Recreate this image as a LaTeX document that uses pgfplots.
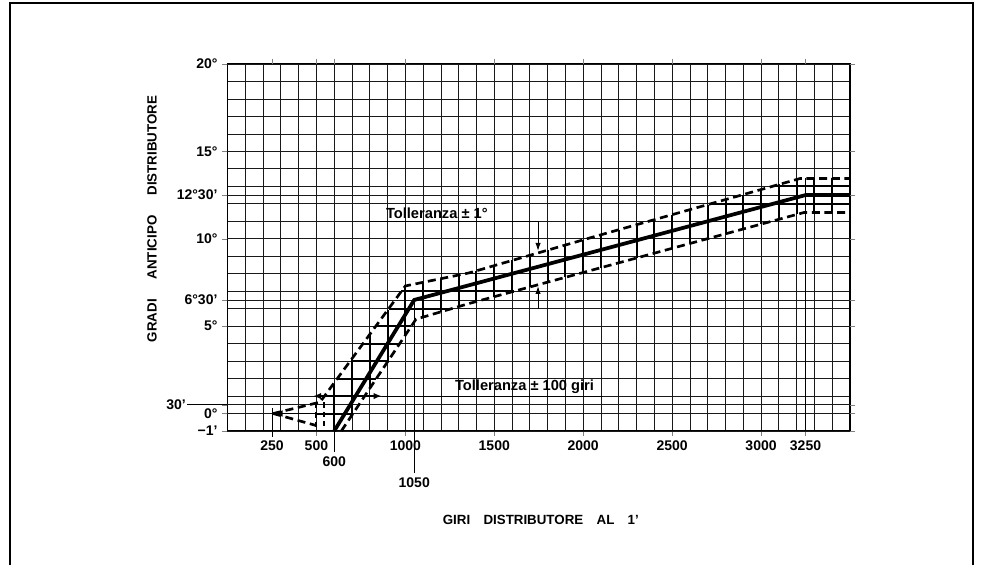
\documentclass[border=0pt]{standalone}
\usepackage{pgfplots}
\pgfplotsset{compat=1.18}
\usepackage{fontspec}
\setmainfont{Liberation Sans}
\usetikzlibrary{arrows.meta}

\begin{document}
\begin{tikzpicture}
\useasboundingbox (-170.625pt,-100.5pt) rectangle (566.625pt,323.25pt);
\begin{axis}[
  at={(0pt,0pt)}, anchor=south west,
  scale only axis, width=466.875pt, height=275.25pt,
  xmin=0, xmax=3500, ymin=-1, ymax=20,
  clip=false,
  axis line style={line width=1pt},
  xtick={0,100,...,3500}, xticklabels={},
  ytick={-1,0,...,20}, yticklabels={},
  major tick length=0pt,
  grid=major, major grid style={black!90, line width=0.55pt},
  extra x ticks={250,500,600,1000,1500,2000,2500,3000,3250},
  extra x tick labels={250,500,,1000,1500,2000,2500,3000,3250},
  extra x tick style={grid=none, major tick length=4pt, tick align=outside},
  extra y ticks={-1,0,0.5,5,6.5,10,12.5,15,20},
  extra y tick labels={−1',0°,,5°,6°30',10°,12°30',15°,20°},
  extra y tick style={major tick length=4pt, tick align=outside},
  tick label style={font=\bfseries\fontsize{10.5}{12}\selectfont, black},
]
% hatch: grid lines emphasised inside the tolerance band (start x, start y, dx, dy)
\addplot[black, line width=1.5pt, quiver={u=\thisrow{u}, v=\thisrow{v}}] table {
x y u v
600 -1 0 2.7
700 -0.1 0 3.2
800 1.44 0 3.06
900 2.96 0 2.94
1000 4.49 0 2.81
1100 5.52 0 1.99
1200 5.82 0 1.90
1300 6.12 0 1.81
1400 6.41 0 1.76
1500 6.69 0 1.77
1600 6.96 0 1.80
1700 7.24 0 1.81
1800 7.52 0 1.83
1900 7.79 0 1.85
2000 8.07 0 1.87
2100 8.35 0 1.88
2200 8.62 0 1.90
2300 8.90 0 1.91
2400 9.18 0 1.91
2500 9.45 0 1.93
2600 9.73 0 1.94
2700 10.01 0 1.95
2800 10.28 0 1.96
2900 10.56 0 1.97
3000 10.84 0 1.98
3100 11.11 0 2.00
3200 11.39 0 2.00
3300 11.5 0 1.95
3400 11.5 0 1.95
500 0 205 0
549 1 222 0
620 2 217 0
692 3 210 0
764 4 204 0
835 5 199 0
907 6 353 0
978 7 635 0
2716 12 784 0
3063 13 437 0
};
% thin construction lines
\addplot[black, line width=0.6pt, quiver={u=\thisrow{u}, v=\thisrow{v}}] table {
x y u v
1050 6.5 0 -9.92
600 -1 0 -1.2
3250 13.45 0 -14.45
250 0.3 0 -1.63
-225 0.5 225 0
800 11 946 0
866 1 1244 0
};
% tolerance band (dashed)
\addplot[black, line width=2pt, dash pattern=on 6pt off 3.5pt] coordinates {
(257,0) (520,0.65) (1000,7.3) (1360,8.05) (2055,10.1) (3220,13.45) (3500,13.45)};
\addplot[black, line width=2pt, dash pattern=on 6pt off 3.5pt] coordinates {
(640,-1) (1060,5.4) (1360,6.3) (3240,11.5) (3500,11.5)};
\addplot[black, line width=2pt, dash pattern=on 6pt off 3.5pt] coordinates {
(257,0) (500,-0.69)};
\addplot[black, line width=1.5pt, dash pattern=on 4pt off 3pt] coordinates {(500,0.6) (500,-1)};
\addplot[black, line width=1.5pt, dash pattern=on 4pt off 3pt] coordinates {(540,0.65) (540,-1)};
% arrow at 0 deg
\addplot[black, line width=1.3pt, -{Latex[length=7pt,width=5pt]}] coordinates {(500,0) (257,0)};
% tolerance arrows
\addplot[black, line width=2pt, {Latex[length=6pt,width=5pt]}-{Latex[length=6pt,width=5pt]}] coordinates {(482,1) (866,1)};
\addplot[black, line width=0.8pt, -{Latex[length=6pt,width=4pt]}] coordinates {(1746,11) (1746,9.3)};
\addplot[black, line width=0.8pt, -{Latex[length=6pt,width=4pt]}] coordinates {(1746,6.0) (1746,7.3)};
% nominal curve
\addplot[black, line width=2.8pt] coordinates {
(600,-1) (1050,6.5) (3250,12.5) (3500,12.5)};

\node[font=\bfseries\fontsize{10.5}{12}\selectfont] at (axis cs:600,-1) [yshift=-23pt] {600};
\node[font=\bfseries\fontsize{10.5}{12}\selectfont] at (axis cs:1050,-1) [yshift=-39pt] {1050};
\node[font=\bfseries\fontsize{10.5}{12}\selectfont, anchor=east, inner sep=1pt] at (axis cs:-225,0.5) {30'};
\node[font=\bfseries\fontsize{11}{12}\selectfont, anchor=south, inner sep=1.5pt] at (axis cs:1177,11) {Tolleranza ± 1°};
\node[font=\bfseries\fontsize{11}{12}\selectfont, anchor=south, inner sep=1.5pt] at (axis cs:1670,1) {Tolleranza ± 100 giri};
\end{axis}
\node[rotate=90, font=\bfseries\fontsize{10}{12}\selectfont] at (-56.6pt,159pt) {GRADI\hspace{1.5em}ANTICIPO\hspace{1.5em}DISTRIBUTORE};
\node[font=\bfseries\fontsize{10}{12}\selectfont] at (235pt,-66.75pt) {GIRI\hspace{1em}DISTRIBUTORE\hspace{1em}AL\hspace{1em}1'};
\draw[line width=2pt] (-163pt,-100.5pt) -- (-163pt,321pt) -- (559pt,321pt) -- (559pt,-100.5pt);
\end{tikzpicture}
\end{document}
